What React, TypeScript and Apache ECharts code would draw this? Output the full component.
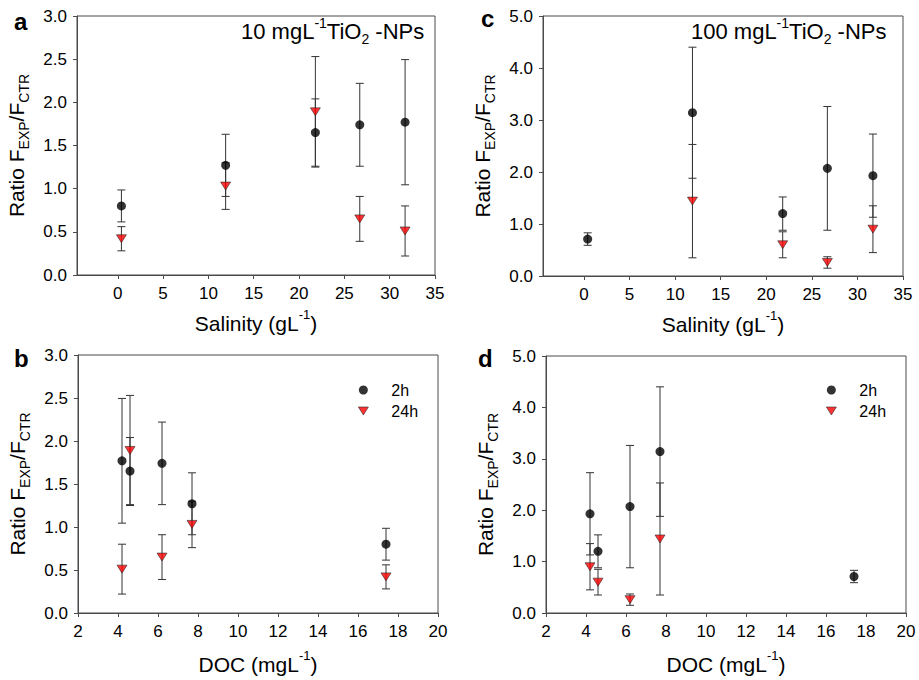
import React, { useEffect, useRef } from "react";
import * as echarts from "echarts";

// ---- data ----
const salinity = [0.4, 11.9, 21.8, 26.7, 31.7];
const doc = [17.4, 7.7, 4.6, 6.2, 4.2];

// 10 mg/L TiO2-NPs
const mean2h10 = [0.8, 1.27, 1.65, 1.74, 1.77];
const sd2h10 = [0.185, 0.36, 0.39, 0.48, 0.725];
const mean24h10 = [0.42, 1.03, 1.89, 0.65, 0.51];
const sd24h10 = [0.14, 0.27, 0.64, 0.26, 0.29];

// 100 mg/L TiO2-NPs
const mean2h100 = [0.71, 3.14, 1.2, 2.07, 1.93];
const sd2h100 = [0.12, 1.26, 0.32, 1.19, 0.8];
const mean24h100: (number | null)[] = [null, 1.44, 0.6, 0.26, 0.9];
const sd24h100: (number | null)[] = [null, 1.09, 0.25, 0.11, 0.45];

const salinityTicks = [0, 5, 10, 15, 20, 25, 30, 35];
const panelLetters = ["a", "c", "b", "d"];
const panelTitles = ["10 mgL{sup|-1}TiO{sub|2} -NPs", "100 mgL{sup|-1}TiO{sub|2} -NPs"];
const seriesNames = ["2h", "24h"];

const FONT = "Arial, 'Liberation Sans', sans-serif";
const AXIS_COLOR = "#4a4a4a";
const ERR_COLOR = "#333";
const TRI_DOWN = "path://M0,0 L10,0 L5,8 Z";

const richSupSub = {
  sup: { fontSize: 13, fontFamily: FONT, color: "#000", verticalAlign: "top", lineHeight: 24 },
  sub: { fontSize: 13, fontFamily: FONT, color: "#000", verticalAlign: "bottom", lineHeight: 13 },
};
const richTitle = {
  sup: { fontSize: 14, fontFamily: FONT, color: "#000", verticalAlign: "top", lineHeight: 21 },
  sub: { fontSize: 14, fontFamily: FONT, color: "#000", verticalAlign: "bottom", lineHeight: 14 },
};

function errBars(xs: number[], means: (number | null)[], sds: (number | null)[], gi: number, name: string) {
  const data: number[][] = [];
  xs.forEach((x, i) => {
    const m = means[i];
    const s = sds[i];
    if (m == null || s == null) return;
    data.push([x, m - s, m + s]);
  });
  return {
    type: "custom",
    name,
    xAxisIndex: gi,
    yAxisIndex: gi,
    silent: true,
    z: 1,
    encode: { x: 0, y: [1, 2] },
    data,
    renderItem: (params: any, api: any) => {
      const x = api.value(0);
      const top = api.coord([x, api.value(2)]);
      const bot = api.coord([x, api.value(1)]);
      const w = 4;
      const style = { stroke: ERR_COLOR, lineWidth: 1 };
      return {
        type: "group",
        children: [
          { type: "line", shape: { x1: top[0], y1: top[1], x2: bot[0], y2: bot[1] }, style },
          { type: "line", shape: { x1: top[0] - w, y1: top[1], x2: top[0] + w, y2: top[1] }, style },
          { type: "line", shape: { x1: bot[0] - w, y1: bot[1], x2: bot[0] + w, y2: bot[1] }, style },
        ],
      };
    },
  };
}

function pts(xs: number[], means: (number | null)[], gi: number, kind: number) {
  const data: number[][] = [];
  xs.forEach((x, i) => {
    const m = means[i];
    if (m == null) return;
    data.push([x, m]);
  });
  const base: any = {
    type: "scatter",
    name: seriesNames[kind],
    xAxisIndex: gi,
    yAxisIndex: gi,
    z: 3,
    data,
  };
  if (kind === 0) {
    base.symbol = "circle";
    base.symbolSize = 9;
    base.itemStyle = { color: "#000" };
  } else {
    base.symbol = "triangle";
    base.symbolRotate = 180;
    base.symbolSize = [10, 8];
    base.itemStyle = { color: "#ff0000", borderColor: "#222", borderWidth: 0.7 };
  }
  return base;
}

export default function App() {
  const ref = useRef<HTMLDivElement>(null);
  useEffect(() => {
    if (!ref.current) return;
    const chart = echarts.init(ref.current, undefined, { renderer: "svg" });

    const grids = [
      { left: 76, top: 16, width: 359, height: 259 },
      { left: 543, top: 16, width: 360, height: 260 },
      { left: 78, top: 355, width: 360, height: 259 },
      { left: 546, top: 356, width: 360, height: 259 },
    ].map((g) => ({ ...g, show: true, borderColor: AXIS_COLOR, borderWidth: 1, backgroundColor: "transparent" }));

    const axisCommon = {
      axisLine: { show: true, onZero: false, lineStyle: { color: AXIS_COLOR, width: 1 } },
      axisTick: { show: true, inside: false, length: 4, lineStyle: { color: AXIS_COLOR } },
      splitLine: { show: false },
      nameLocation: "middle",
      nameTextStyle: { fontSize: 21, fontFamily: FONT, color: "#000", lineHeight: 30, rich: richSupSub },
    };
    const tickLabel = { fontSize: 17, fontFamily: FONT, color: "#000", margin: 10 };

    const xAxis = [0, 1, 2, 3].map((i) => {
      if (i < 2) {
        return {
          ...axisCommon,
          type: "value",
          gridIndex: i,
          min: -4.5,
          max: 35,
          name: "Salinity (gL{sup|-1})",
          nameGap: 33,
          axisLabel: { ...tickLabel, customValues: salinityTicks },
          axisTick: { ...axisCommon.axisTick, customValues: salinityTicks },
        };
      }
      return {
        ...axisCommon,
        type: "value",
        gridIndex: i,
        min: 2,
        max: 20,
        interval: 2,
        name: "DOC (mgL{sup|-1})",
        nameGap: 36,
        axisLabel: { ...tickLabel, showMinLabel: true, showMaxLabel: true },
      };
    });

    const yAxis = [0, 1, 2, 3].map((i) => {
      const small = i === 0 || i === 2;
      return {
        ...axisCommon,
        type: "value",
        gridIndex: i,
        min: 0,
        max: small ? 3 : 5,
        interval: small ? 0.5 : 1,
        name: "Ratio F{sub|EXP}/F{sub|CTR}",
        nameGap: 46,
        nameTextStyle: {
          ...axisCommon.nameTextStyle,
          rich: { sub: { fontSize: 14, fontFamily: FONT, color: "#000", verticalAlign: "bottom", lineHeight: 13 } },
        },
        axisLabel: { ...tickLabel, formatter: (v: number) => v.toFixed(1) },
      };
    });

    const letterPos = [
      { left: 14, top: 9 },
      { left: 481, top: 6 },
      { left: 14, top: 346 },
      { left: 478, top: 346 },
    ];
    const titles: any[] = panelLetters.map((l, i) => ({
      text: l,
      left: letterPos[i].left,
      top: letterPos[i].top,
      padding: 0,
      textStyle: { fontSize: 24, fontWeight: "bold", fontFamily: FONT, color: "#000" },
    }));
    titles.push({
      text: panelTitles[0],
      left: 241,
      top: 16,
      padding: 0,
      textStyle: { fontSize: 22, fontWeight: "normal", fontFamily: FONT, color: "#000", lineHeight: 30, rich: richTitle },
    });
    titles.push({
      text: panelTitles[1],
      left: 691,
      top: 16,
      padding: 0,
      textStyle: { fontSize: 22, fontWeight: "normal", fontFamily: FONT, color: "#000", lineHeight: 30, rich: richTitle },
    });

    const legendCommon = {
      orient: "vertical",
      padding: 0,
      itemWidth: 10,
      itemHeight: 9,
      itemGap: 5,
      selectedMode: false,
      formatter: "{g|}{name}",
      data: [
        { name: seriesNames[0], icon: "circle" },
        { name: seriesNames[1], icon: TRI_DOWN, itemStyle: { color: "#ff0000", borderColor: "#222", borderWidth: 0.7 } },
      ],
      textStyle: {
        fontSize: 16,
        fontFamily: FONT,
        color: "#000",
        lineHeight: 16,
        rich: { g: { width: 18, fontSize: 16, lineHeight: 16 } },
      },
    };
    const legend = [
      { ...legendCommon, left: 358, top: 382 },
      { ...legendCommon, left: 826, top: 382 },
    ];

    const series: any[] = [
      errBars(salinity, mean2h10, sd2h10, 0, "e2h10s"),
      errBars(salinity, mean24h10, sd24h10, 0, "e24h10s"),
      pts(salinity, mean2h10, 0, 0),
      pts(salinity, mean24h10, 0, 1),
      errBars(salinity, mean2h100, sd2h100, 1, "e2h100s"),
      errBars(salinity, mean24h100, sd24h100, 1, "e24h100s"),
      pts(salinity, mean2h100, 1, 0),
      pts(salinity, mean24h100, 1, 1),
      errBars(doc, mean2h10, sd2h10, 2, "e2h10d"),
      errBars(doc, mean24h10, sd24h10, 2, "e24h10d"),
      pts(doc, mean2h10, 2, 0),
      pts(doc, mean24h10, 2, 1),
      errBars(doc, mean2h100, sd2h100, 3, "e2h100d"),
      errBars(doc, mean24h100, sd24h100, 3, "e24h100d"),
      pts(doc, mean2h100, 3, 0),
      pts(doc, mean24h100, 3, 1),
    ];

    chart.setOption({
      animation: false,
      backgroundColor: "#fff",
      textStyle: { fontFamily: FONT },
      title: titles,
      legend,
      grid: grids,
      xAxis,
      yAxis,
      series,
    });
    return () => chart.dispose();
  }, []);
  return (
    <div
      ref={ref}
      style={{ position: "absolute", left: 0, top: 0, width: 919, height: 680, background: "#fff" }}
    />
  );
}
